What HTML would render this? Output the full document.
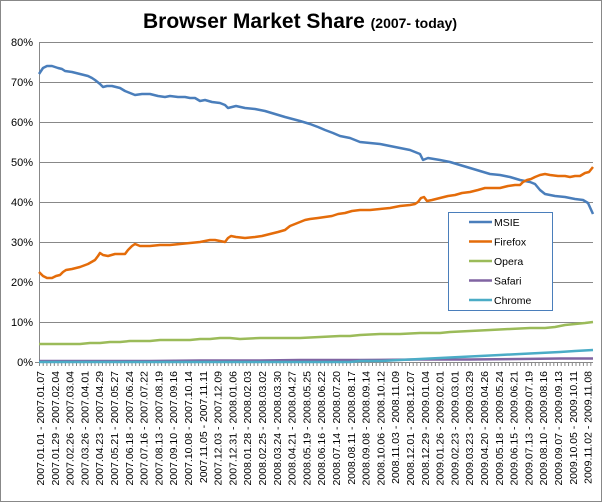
<!DOCTYPE html>
<html><head><meta charset="utf-8"><style>
body{margin:0;background:#fff}
svg{display:block;font-family:"Liberation Sans",sans-serif}
</style></head><body>
<svg width="602" height="503" viewBox="0 0 602 503" xmlns="http://www.w3.org/2000/svg">
<rect x="0.5" y="0.5" width="601" height="501" fill="#fff" stroke="#888"/>
<text x="300" y="28" text-anchor="middle" font-weight="bold" font-size="21" fill="#000">Browser Market Share <tspan font-size="14">(2007- today)</tspan></text>
<g stroke="#888" stroke-width="1">
<line x1="39" y1="42.5" x2="593" y2="42.5"/>
<line x1="39" y1="82.5" x2="593" y2="82.5"/>
<line x1="39" y1="122.5" x2="593" y2="122.5"/>
<line x1="39" y1="162.5" x2="593" y2="162.5"/>
<line x1="39" y1="202.5" x2="593" y2="202.5"/>
<line x1="39" y1="242.5" x2="593" y2="242.5"/>
<line x1="39" y1="282.5" x2="593" y2="282.5"/>
<line x1="39" y1="322.5" x2="593" y2="322.5"/>
<line x1="39.5" y1="42" x2="39.5" y2="362"/>
<line x1="35" y1="362.5" x2="593" y2="362.5"/>
</g>
<line x1="39" y1="364" x2="593" y2="364" stroke="#888" stroke-width="4" stroke-dasharray="1 2.7"/>
<g font-size="11" text-anchor="end" fill="#000">
<text x="33" y="46">80%</text><text x="33" y="86">70%</text><text x="33" y="126">60%</text><text x="33" y="166">50%</text><text x="33" y="206">40%</text><text x="33" y="246">30%</text><text x="33" y="286">20%</text><text x="33" y="326">10%</text><text x="33" y="366">0%</text>
</g>
<g fill="none" stroke-width="2.5" stroke-linejoin="round">
<polyline stroke="#4a7ebb" points="39,74 43,68 47,66 52,66 58,68 62,69 65,71 72,72 80,74 88,76 92,78 95,80 100,84 103,87 107,86 112,86 120,88 125,91 130,93 135,95 142,94 150,94 158,96 165,97 170,96 178,97 185,97 190,98 195,98 200,101 205,100 212,102 220,103 225,105 228,108 232,107 236,106 245,108 255,109 265,111 275,114 285,117 300,121 310,124 318,127 325,130 333,133 340,136 350,138 360,142 370,143 380,144 390,146 400,148 410,150 415,152 420,154 423,160 428,158 440,160 450,162 460,165 470,168 480,171 490,174 500,175 510,177 520,180 525,181 530,182 535,184 540,190 545,194 555,196 565,197 575,199 583,200 588,203 593,214"/>
<polyline stroke="#e46c0a" points="39,272 43,276 47,278 52,278 56,276 60,275 63,272 66,270 72,269 80,267 88,264 95,260 98,256 100,253 103,255 108,256 115,254 125,254 128,250 132,246 135,244 140,246 150,246 160,245 170,245 180,244 190,243 200,242 205,241 210,240 215,240 220,241 225,242 228,238 231,236 236,237 245,238 255,237 262,236 270,234 278,232 285,230 290,226 295,224 300,222 305,220 310,219 318,218 325,217 332,216 338,214 345,213 352,211 360,210 370,210 380,209 390,208 400,206 410,205 415,204 418,202 421,198 424,197 427,201 432,200 440,198 448,196 455,195 462,193 470,192 478,190 485,188 492,188 500,188 508,186 515,185 520,185 523,182 527,180 531,179 535,177 540,175 545,174 550,175 558,176 565,176 570,177 575,176 580,176 585,173 589,172 593,167"/>
<polyline stroke="#9bbb59" points="39,344 60,344 80,344 90,343 100,343 110,342 120,342 130,341 140,341 150,341 160,340 170,340 180,340 190,340 200,339 210,339 220,338 230,338 240,339 260,338 280,338 300,338 320,337 340,336 350,336 360,335 380,334 400,334 420,333 440,333 450,332 470,331 490,330 510,329 530,328 545,328 555,327 565,325 575,324 585,323 593,322"/>
<polyline stroke="#8064a2" points="39,361 150,361 200,360.5 260,360.5 300,360 360,360 420,359.5 470,359.5 520,359 560,358.5 593,358.5"/>
<polyline stroke="#4bacc6" points="39,362 350,362 360,361 380,361 400,360 420,359 440,358 460,357 480,356 500,355 520,354 540,353 560,352 575,351 593,350"/>
</g>
<rect x="448.5" y="212.5" width="104" height="98" fill="#fff" stroke="#4a7ebb"/>
<g stroke-width="2.5">
<line x1="469" y1="222" x2="492" y2="222" stroke="#4a7ebb"/>
<line x1="469" y1="241.5" x2="492" y2="241.5" stroke="#e46c0a"/>
<line x1="469" y1="261" x2="492" y2="261" stroke="#9bbb59"/>
<line x1="469" y1="280.5" x2="492" y2="280.5" stroke="#8064a2"/>
<line x1="469" y1="300" x2="492" y2="300" stroke="#4bacc6"/>
</g>
<g font-size="10.5" fill="#000">
<text x="494" y="226">MSIE</text><text x="494" y="245.5">Firefox</text><text x="494" y="265">Opera</text><text x="494" y="284.5">Safari</text><text x="494" y="304">Chrome</text>
</g>
<g font-size="10.5" fill="#000" text-anchor="end">
<text transform="translate(44,371) rotate(-90)">2007.01.01 - 2007.01.07</text>
<text transform="translate(58.8,371) rotate(-90)">2007.01.29 - 2007.02.04</text>
<text transform="translate(73.6,371) rotate(-90)">2007.02.26 - 2007.03.04</text>
<text transform="translate(88.4,371) rotate(-90)">2007.03.26 - 2007.04.01</text>
<text transform="translate(103.2,371) rotate(-90)">2007.04.23 - 2007.04.29</text>
<text transform="translate(118,371) rotate(-90)">2007.05.21 - 2007.05.27</text>
<text transform="translate(132.8,371) rotate(-90)">2007.06.18 - 2007.06.24</text>
<text transform="translate(147.6,371) rotate(-90)">2007.07.16 - 2007.07.22</text>
<text transform="translate(162.4,371) rotate(-90)">2007.08.13 - 2007.08.19</text>
<text transform="translate(177.2,371) rotate(-90)">2007.09.10 - 2007.09.16</text>
<text transform="translate(192,371) rotate(-90)">2007.10.08 - 2007.10.14</text>
<text transform="translate(206.8,371) rotate(-90)">2007.11.05 - 2007.11.11</text>
<text transform="translate(221.6,371) rotate(-90)">2007.12.03 - 2007.12.09</text>
<text transform="translate(236.4,371) rotate(-90)">2007.12.31 - 2008.01.06</text>
<text transform="translate(251.2,371) rotate(-90)">2008.01.28 - 2008.02.03</text>
<text transform="translate(266,371) rotate(-90)">2008.02.25 - 2008.03.02</text>
<text transform="translate(280.8,371) rotate(-90)">2008.03.24 - 2008.03.30</text>
<text transform="translate(295.6,371) rotate(-90)">2008.04.21 - 2008.04.27</text>
<text transform="translate(310.4,371) rotate(-90)">2008.05.19 - 2008.05.25</text>
<text transform="translate(325.2,371) rotate(-90)">2008.06.16 - 2008.06.22</text>
<text transform="translate(340,371) rotate(-90)">2008.07.14 - 2008.07.20</text>
<text transform="translate(354.8,371) rotate(-90)">2008.08.11 - 2008.08.17</text>
<text transform="translate(369.6,371) rotate(-90)">2008.09.08 - 2008.09.14</text>
<text transform="translate(384.4,371) rotate(-90)">2008.10.06 - 2008.10.12</text>
<text transform="translate(399.2,371) rotate(-90)">2008.11.03 - 2008.11.09</text>
<text transform="translate(414,371) rotate(-90)">2008.12.01 - 2008.12.07</text>
<text transform="translate(428.8,371) rotate(-90)">2008.12.29 - 2009.01.04</text>
<text transform="translate(443.6,371) rotate(-90)">2009.01.26 - 2009.02.01</text>
<text transform="translate(458.4,371) rotate(-90)">2009.02.23 - 2009.03.01</text>
<text transform="translate(473.2,371) rotate(-90)">2009.03.23 - 2009.03.29</text>
<text transform="translate(488,371) rotate(-90)">2009.04.20 - 2009.04.26</text>
<text transform="translate(502.8,371) rotate(-90)">2009.05.18 - 2009.05.24</text>
<text transform="translate(517.6,371) rotate(-90)">2009.06.15 - 2009.06.21</text>
<text transform="translate(532.4,371) rotate(-90)">2009.07.13 - 2009.07.19</text>
<text transform="translate(547.2,371) rotate(-90)">2009.08.10 - 2009.08.16</text>
<text transform="translate(562,371) rotate(-90)">2009.09.07 - 2009.09.13</text>
<text transform="translate(576.8,371) rotate(-90)">2009.10.05 - 2009.10.11</text>
<text transform="translate(591.6,371) rotate(-90)">2009.11.02 - 2009.11.08</text>
</g>
</svg>
</body></html>
